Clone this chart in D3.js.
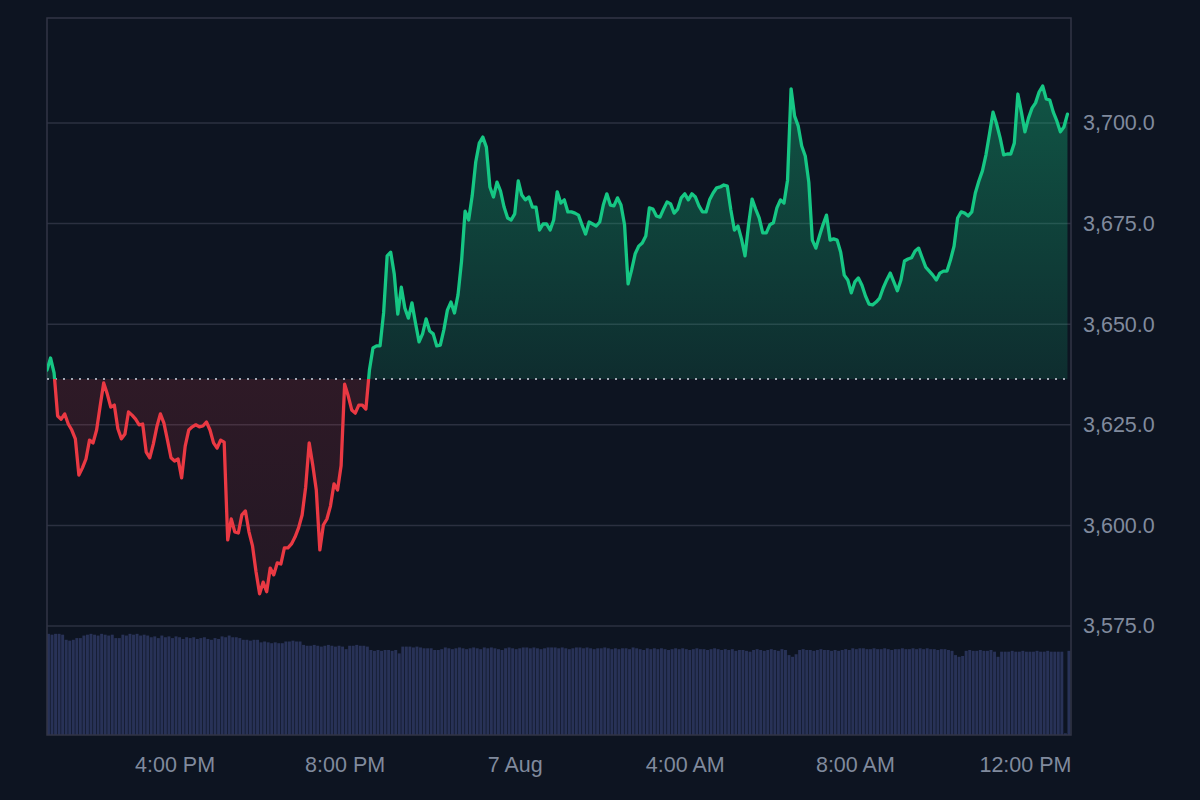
<!DOCTYPE html>
<html>
<head>
<meta charset="utf-8">
<script src="https://cdn.jsdelivr.net/npm/d3@7"></script>
<style>
  html, body { margin: 0; padding: 0; background: #0d1421; }
  svg { display: block; }
</style>
</head>
<body>
<svg id="chart" width="1200" height="800"></svg>
<script>
// ---------------- DATA ----------------
const startTime = new Date(2024, 7, 6, 13, 0);
const endTime = new Date(2024, 7, 7, 13, 5);
const intervalMinutes = 5;
const baselinePrice = 3636.4;

const prices = [
  3638.6, 3641.6, 3637.9, 3627.2, 3626.4, 3627.7, 3625.2, 3623.7, 3621.5, 3612.5,
  3614.3, 3616.5, 3621.2, 3620.5, 3623.7, 3629.7, 3635.4, 3632.7, 3629.4, 3629.9,
  3624.0, 3621.5, 3622.7, 3628.2, 3627.4, 3626.4, 3625.0, 3625.2, 3618.2, 3616.8,
  3620.2, 3624.5, 3627.7, 3625.4, 3621.2, 3616.8, 3616.0, 3616.5, 3611.8, 3619.7,
  3623.7, 3624.5, 3625.0, 3624.5, 3624.7, 3625.7, 3623.7, 3620.5, 3619.2, 3621.2,
  3620.7, 3596.4, 3601.6, 3598.4, 3598.1, 3602.6, 3603.6, 3598.4, 3594.9, 3588.4,
  3583.0, 3585.9, 3583.5, 3589.4, 3587.7, 3590.7, 3590.4, 3594.4, 3594.4, 3595.4,
  3597.1, 3599.4, 3602.6, 3609.5, 3620.5, 3615.0, 3608.8, 3593.9, 3600.1, 3601.6,
  3604.8, 3610.3, 3608.8, 3614.8, 3635.1, 3632.2, 3628.7, 3627.9, 3629.9, 3629.9,
  3628.9, 3638.6, 3644.1, 3644.6, 3644.6, 3652.8, 3667.0, 3667.9, 3662.5, 3652.5,
  3659.2, 3654.0, 3651.5, 3655.3, 3650.3, 3645.6, 3647.6, 3651.3, 3648.3, 3647.6,
  3644.6, 3644.8, 3648.6, 3653.5, 3655.5, 3652.8, 3657.3, 3665.7, 3678.1, 3675.9,
  3681.9, 3690.3, 3695.0, 3696.5, 3694.0, 3684.1, 3681.6, 3685.3, 3683.1, 3679.1,
  3676.4, 3675.9, 3677.4, 3685.6, 3682.1, 3680.9, 3681.6, 3679.1, 3679.1, 3673.4,
  3674.9, 3674.9, 3673.4, 3675.9, 3682.9, 3680.1, 3680.9, 3677.9, 3677.9, 3677.6,
  3677.1, 3674.7, 3672.4, 3675.4, 3674.9, 3674.4, 3675.4, 3679.6, 3682.4, 3679.6,
  3679.4, 3681.4, 3679.6, 3674.7, 3660.0, 3663.5, 3667.5, 3669.4, 3670.2, 3671.9,
  3678.9, 3678.6, 3676.9, 3676.6, 3678.6, 3680.4, 3679.9, 3677.6, 3678.6, 3681.4,
  3682.4, 3680.9, 3682.4, 3681.6, 3679.4, 3677.9, 3677.9, 3680.9, 3682.6, 3683.9,
  3684.1, 3684.6, 3684.3, 3678.4, 3673.4, 3674.4, 3671.2, 3667.0, 3674.7, 3681.1,
  3678.6, 3676.4, 3672.7, 3672.7, 3674.7, 3675.2, 3678.9, 3680.9, 3680.1, 3685.8,
  3708.5, 3701.7, 3699.3, 3694.3, 3691.8, 3685.3, 3670.9, 3668.9, 3671.9, 3674.7,
  3677.1, 3670.9, 3671.2, 3670.9, 3667.9, 3662.2, 3661.0, 3657.8, 3660.5, 3661.5,
  3659.7, 3657.0, 3655.0, 3654.8, 3655.5, 3656.5, 3659.0, 3661.0, 3662.7, 3660.5,
  3658.3, 3661.0, 3665.7, 3666.2, 3666.5, 3668.2, 3668.9, 3666.5, 3664.2, 3663.2,
  3662.2, 3661.0, 3662.7, 3663.2, 3663.2, 3666.0, 3669.4, 3676.4, 3677.9, 3677.6,
  3676.9, 3677.9, 3682.6, 3685.6, 3688.1, 3692.1, 3697.3, 3702.7, 3699.8, 3696.3,
  3692.1, 3692.3, 3692.3, 3695.0, 3707.2, 3702.7, 3697.8, 3701.2, 3703.7, 3705.0,
  3707.7, 3709.2, 3706.0, 3705.7, 3702.7, 3700.5, 3697.8, 3699.0, 3702.2
];

const volumes = [
  119, 118, 119, 119, 118, 112, 111, 112, 114, 114,
  117, 118, 119, 118, 117, 119, 118, 117, 118, 114,
  114, 118, 117, 119, 118, 119, 117, 118, 117, 115,
  116, 114, 117, 115, 116, 114, 116, 115, 113, 115,
  114, 115, 113, 114, 115, 113, 112, 114, 113, 116,
  115, 117, 115, 115, 114, 112, 112, 111, 112, 112,
  109, 110, 109, 108, 109, 108, 108, 110, 110, 111,
  110, 110, 106, 105, 105, 106, 105, 104, 105, 106,
  105, 104, 105, 104, 101, 105, 105, 106, 105, 105,
  104, 100, 99, 100, 99, 100, 100, 99, 100, 96,
  104, 104, 104, 103, 104, 103, 102, 102, 102, 100,
  100, 101, 103, 102, 101, 102, 103, 102, 101, 102,
  103, 102, 101, 103, 102, 103, 102, 101, 100, 102,
  103, 102, 101, 102, 103, 103, 102, 103, 102, 101,
  102, 103, 103, 103, 102, 103, 102, 101, 102, 103,
  103, 102, 103, 102, 101, 102, 102, 103, 102, 101,
  102, 101, 102, 102, 101, 103, 102, 101, 100, 102,
  101, 102, 101, 102, 101, 100, 101, 102, 101, 102,
  101, 100, 101, 102, 101, 101, 100, 101, 102, 101,
  100, 101, 100, 101, 99, 100, 100, 99, 98, 100,
  101, 100, 99, 100, 101, 100, 99, 101, 100, 94,
  92, 95, 100, 101, 100, 100, 99, 100, 101, 100,
  100, 99, 100, 99, 100, 101, 100, 102, 101, 102,
  102, 101, 101, 102, 101, 101, 102, 101, 100, 101,
  101, 102, 101, 101, 102, 101, 102, 101, 102, 101,
  101, 100, 101, 101, 100, 99, 94, 92, 93, 99,
  100, 99, 99, 100, 99, 99, 100, 98, 92, 98,
  98, 98, 99, 98, 98, 99, 98, 98, 98, 99,
  98, 98, 99, 98, 98, 98, 98, 2, 99
];

const priceTicks = [3575, 3600, 3625, 3650, 3675, 3700];
const timeTicks = [
  new Date(2024, 7, 6, 16, 0), new Date(2024, 7, 6, 20, 0), new Date(2024, 7, 7, 0, 0),
  new Date(2024, 7, 7, 4, 0), new Date(2024, 7, 7, 8, 0), new Date(2024, 7, 7, 12, 0)
];
const timeTickLabels = ["4:00 PM", "8:00 PM", "7 Aug", "4:00 AM", "8:00 AM", "12:00 PM"];

// ---------------- CHART ----------------
(function () {
const svg = d3.select("#chart");
const W = 1200, H = 800;
const plotLeft = 47, plotRight = 1071, plotTop = 18, plotBottom = 735;

svg.append("rect").attr("width", W).attr("height", H).attr("fill", "#0d1421");

const times = prices.map((_, i) => d3.timeMinute.offset(startTime, i * intervalMinutes));
const points = prices.map((p, i) => ({ t: times[i], p, v: volumes[i] }));

const x = d3.scaleTime().domain([startTime, endTime]).range([plotLeft, plotRight]);
const y = d3.scaleLinear().domain([3575, 3700]).range([626, 123]);
const yVol = d3.scaleLinear().domain([0, 120]).range([plotBottom, 633]);

const defs = svg.append("defs");
const baseY = y(baselinePrice);

defs.append("clipPath").attr("id", "clipUp")
  .append("rect").attr("x", plotLeft).attr("y", plotTop).attr("width", plotRight - plotLeft).attr("height", baseY - plotTop);
defs.append("clipPath").attr("id", "clipDown")
  .append("rect").attr("x", plotLeft).attr("y", baseY).attr("width", plotRight - plotLeft).attr("height", plotBottom - baseY);

const gUp = defs.append("linearGradient").attr("id", "gradUp")
  .attr("gradientUnits", "userSpaceOnUse")
  .attr("x1", 0).attr("x2", 0).attr("y1", y(d3.max(prices))).attr("y2", baseY);
gUp.append("stop").attr("offset", "0%").attr("stop-color", "#16c784").attr("stop-opacity", 0.36);
gUp.append("stop").attr("offset", "100%").attr("stop-color", "#16c784").attr("stop-opacity", 0.14);

const gDown = defs.append("linearGradient").attr("id", "gradDown")
  .attr("gradientUnits", "userSpaceOnUse")
  .attr("x1", 0).attr("x2", 0).attr("y1", baseY).attr("y2", y(d3.min(prices)));
gDown.append("stop").attr("offset", "0%").attr("stop-color", "#ea3943").attr("stop-opacity", 0.15);
gDown.append("stop").attr("offset", "100%").attr("stop-color", "#ea3943").attr("stop-opacity", 0.10);

// Volume bars
svg.append("g").selectAll("rect").data(points).join("rect")
  .attr("x", d => x(d.t))
  .attr("width", d => Math.max(0.5, x(d3.timeMinute.offset(d.t, intervalMinutes)) - x(d.t) - 0.6))
  .attr("y", d => yVol(d.v))
  .attr("height", d => plotBottom - yVol(d.v))
  .attr("fill", "#283257");

// Grid lines
svg.append("g").selectAll("line").data(priceTicks).join("line")
  .attr("x1", plotLeft).attr("x2", plotRight)
  .attr("y1", d => y(d)).attr("y2", d => y(d))
  .attr("stroke", "#2b3040").attr("stroke-width", 1.5);

// Frame
svg.append("rect")
  .attr("x", plotLeft).attr("y", plotTop).attr("width", plotRight - plotLeft).attr("height", plotBottom - plotTop)
  .attr("fill", "none").attr("stroke", "#323546").attr("stroke-width", 1.5);

// Areas
const area = d3.area().x(d => x(d.t)).y0(baseY).y1(d => y(d.p));
svg.append("path").datum(points).attr("d", area)
  .attr("fill", "url(#gradUp)").attr("clip-path", "url(#clipUp)");
svg.append("path").datum(points).attr("d", area)
  .attr("fill", "url(#gradDown)").attr("clip-path", "url(#clipDown)");

// Baseline
svg.append("line")
  .attr("x1", plotLeft).attr("x2", plotRight).attr("y1", baseY).attr("y2", baseY)
  .attr("stroke", "#a1a7b3").attr("stroke-width", 2).attr("stroke-dasharray", "2,6");

// Lines
const line = d3.line().x(d => x(d.t)).y(d => y(d.p));
svg.append("path").datum(points).attr("d", line)
  .attr("fill", "none").attr("stroke", "#16c784").attr("stroke-width", 3.3)
  .attr("stroke-linejoin", "round").attr("stroke-linecap", "round")
  .attr("clip-path", "url(#clipUp)");
svg.append("path").datum(points).attr("d", line)
  .attr("fill", "none").attr("stroke", "#ea3943").attr("stroke-width", 3.3)
  .attr("stroke-linejoin", "round").attr("stroke-linecap", "round")
  .attr("clip-path", "url(#clipDown)");

// Axes
const fontFamily = "'Liberation Sans', Arial, Helvetica, sans-serif";
const yAxis = d3.axisRight(y).tickValues(priceTicks).tickFormat(d3.format(",.1f")).tickSize(0).tickPadding(12);
const gy = svg.append("g").attr("transform", `translate(${plotRight},0)`).call(yAxis);
gy.select(".domain").remove();
gy.selectAll("text").attr("fill", "#808a9d").style("font-family", fontFamily).style("font-size", "21.5px");

const xAxis = d3.axisBottom(x).tickValues(timeTicks)
  .tickFormat((d, i) => timeTickLabels[i]).tickSize(0).tickPadding(22);
const gx = svg.append("g").attr("transform", `translate(0,${plotBottom})`).call(xAxis);
gx.select(".domain").remove();
gx.selectAll("text").attr("fill", "#808a9d").style("font-family", fontFamily).style("font-size", "21.5px");
})();
</script>
</body>
</html>
